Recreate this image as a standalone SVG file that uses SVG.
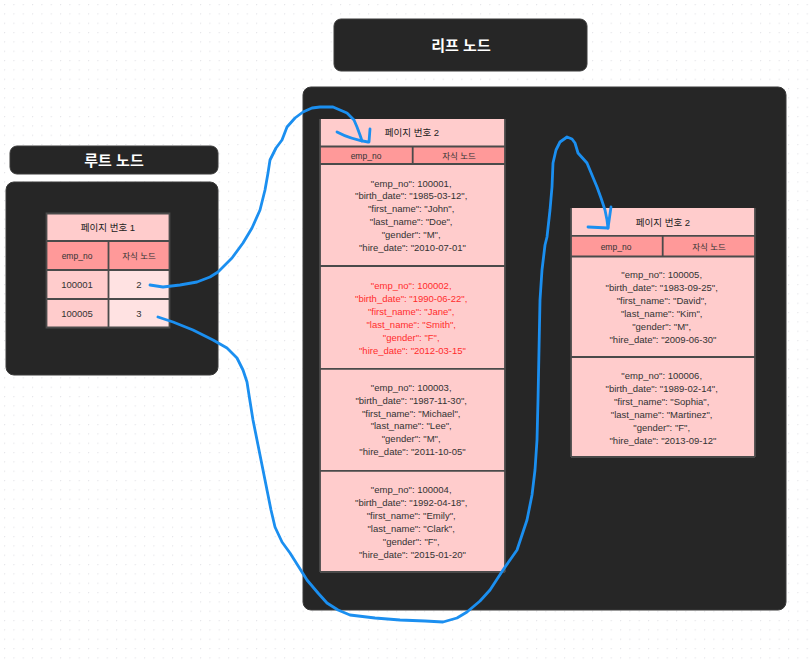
<svg xmlns="http://www.w3.org/2000/svg" width="811" height="665" viewBox="0 0 811 665">
<defs>
  <pattern id="dots" x="4" y="4" width="9.333" height="9.333" patternUnits="userSpaceOnUse">
    <circle cx="0" cy="0" r="1.3" fill="#e4e4e8"/>
  </pattern>
</defs>
<style>
  .panel { fill: #262626; stroke: #3a3a3a; stroke-width: 1; }
  .title { font-family: "Liberation Sans", "Noto Sans CJK KR", sans-serif; font-size: 15px; font-weight: bold; fill: #ffffff; text-anchor: middle; dominant-baseline: central; }
  .hdr { fill: #ffcccc; }
  .colhdr { fill: #ff9999; }
  .cellA { fill: #ffcccc; }
  .cellB { fill: #ffe2e2; }
  .grid { fill: none; stroke: #4a4a4a; stroke-width: 1.8; }
  .t { font-family: "Liberation Sans", "Noto Sans CJK KR", sans-serif; font-size: 9.5px; fill: #333333; text-anchor: middle; dominant-baseline: central; }
  .th { font-family: "Liberation Sans", "Noto Sans CJK KR", sans-serif; font-size: 9.5px; fill: #222222; text-anchor: middle; dominant-baseline: central; }
  .tk { font-family: "Liberation Sans", "Noto Sans CJK KR", sans-serif; font-size: 8.5px; fill: #333333; text-anchor: middle; dominant-baseline: central; }
  .red { fill: #ff2d2d; }
  .wire { fill: none; stroke: #1b8ff0; stroke-width: 2.8; stroke-linecap: round; stroke-linejoin: round; }
</style>

<rect x="0" y="0" width="811" height="665" fill="#ffffff"/>
<rect x="0" y="0" width="811" height="665" fill="url(#dots)"/>

<g id="leaf-title">
  <rect class="panel" x="334" y="19" width="253" height="52" rx="7"/>
  <text class="title" x="461" y="45">리프 노드</text>
</g>

<g id="root-title">
  <rect class="panel" x="10" y="146" width="208" height="28" rx="7"/>
  <text class="title" x="114" y="160">루트 노드</text>
</g>

<g id="root-node">
  <rect class="panel" x="6" y="182" width="212" height="193" rx="8"/>
  <rect class="hdr" x="46.5" y="213.5" width="123" height="27.5"/>
  <rect class="colhdr" x="46.5" y="241" width="62" height="29"/>
  <rect class="colhdr" x="108.5" y="241" width="61" height="29"/>
  <rect class="cellA" x="46.5" y="270" width="62" height="29"/>
  <rect class="cellB" x="108.5" y="270" width="61" height="29"/>
  <rect class="cellA" x="46.5" y="299" width="62" height="28.5"/>
  <rect class="cellB" x="108.5" y="299" width="61" height="28.5"/>
  <path class="grid" d="M46.5,213.5 H169.5 V327.5 H46.5 Z M46.5,241 H169.5 M46.5,270 H169.5 M46.5,299 H169.5 M108.5,241 V327.5"/>
  <text class="th" x="108" y="227.5">페이지 번호 1</text>
  <text class="tk" x="77" y="255.5">emp_no</text>
  <text class="tk" x="139" y="255.5">자식 노드</text>
  <text class="t" x="77" y="284.5">100001</text>
  <text class="t" x="139" y="284.5">2</text>
  <text class="t" x="77" y="313">100005</text>
  <text class="t" x="139" y="313">3</text>
</g>

<g id="leaf-container">
  <rect class="panel" x="303" y="87" width="483" height="523" rx="8"/>
</g>

<g id="leaf-page-2">
  <rect class="hdr" x="320" y="119" width="185" height="453"/>
  <rect class="colhdr" x="320" y="147" width="185" height="16.5"/>
  <path class="grid" d="M320,146.5 H505 M320,164 H505 M412.7,146.5 V164 M320,266 H505 M320,368.8 H505 M320,470.8 H505 M320,572 H505 M320,119 V572 M505,119 V572"/>
  <text class="th" x="412" y="132.7">페이지 번호 2</text>
  <text class="tk" x="366" y="155.5">emp_no</text>
  <text class="tk" x="459" y="155.5">자식 노드</text>
  <text class="t" x="412.5" y="182.5">
    <tspan x="412.5" dy="0">"emp_no": 100001,</tspan>
    <tspan x="412.5" dy="12.9">"birth_date": "1985-03-12",</tspan>
    <tspan x="412.5" dy="12.9">"first_name": "John",</tspan>
    <tspan x="412.5" dy="12.9">"last_name": "Doe",</tspan>
    <tspan x="412.5" dy="12.9">"gender": "M",</tspan>
    <tspan x="412.5" dy="12.9">"hire_date": "2010-07-01"</tspan>
  </text>
  <text class="t red" x="412.5" y="285">
    <tspan x="412.5" dy="0">"emp_no": 100002,</tspan>
    <tspan x="412.5" dy="13">"birth_date": "1990-06-22",</tspan>
    <tspan x="412.5" dy="13">"first_name": "Jane",</tspan>
    <tspan x="412.5" dy="13">"last_name": "Smith",</tspan>
    <tspan x="412.5" dy="13">"gender": "F",</tspan>
    <tspan x="412.5" dy="13">"hire_date": "2012-03-15"</tspan>
  </text>
  <text class="t" x="412.5" y="386.7">
    <tspan x="412.5" dy="0">"emp_no": 100003,</tspan>
    <tspan x="412.5" dy="12.9">"birth_date": "1987-11-30",</tspan>
    <tspan x="412.5" dy="12.9">"first_name": "Michael",</tspan>
    <tspan x="412.5" dy="12.9">"last_name": "Lee",</tspan>
    <tspan x="412.5" dy="12.9">"gender": "M",</tspan>
    <tspan x="412.5" dy="12.9">"hire_date": "2011-10-05"</tspan>
  </text>
  <text class="t" x="412.5" y="489.3">
    <tspan x="412.5" dy="0">"emp_no": 100004,</tspan>
    <tspan x="412.5" dy="12.9">"birth_date": "1992-04-18",</tspan>
    <tspan x="412.5" dy="12.9">"first_name": "Emily",</tspan>
    <tspan x="412.5" dy="12.9">"last_name": "Clark",</tspan>
    <tspan x="412.5" dy="12.9">"gender": "F",</tspan>
    <tspan x="412.5" dy="12.9">"hire_date": "2015-01-20"</tspan>
  </text>
</g>

<g id="leaf-page-3">
  <rect class="hdr" x="571" y="208" width="184" height="249"/>
  <rect class="colhdr" x="571" y="236.5" width="184" height="19.5"/>
  <path class="grid" d="M571,235.8 H755 M571,256.5 H755 M662.7,235.8 V256.5 M571,357 H755 M571,208 V457 M755,208 V457 M571,457 H755"/>
  <text class="th" x="663" y="222.7">페이지 번호 2</text>
  <text class="tk" x="616" y="246.5">emp_no</text>
  <text class="tk" x="709" y="246.5">자식 노드</text>
  <text class="t" x="663" y="273.5">
    <tspan x="663" dy="0">"emp_no": 100005,</tspan>
    <tspan x="663" dy="13">"birth_date": "1983-09-25",</tspan>
    <tspan x="663" dy="13">"first_name": "David",</tspan>
    <tspan x="663" dy="13">"last_name": "Kim",</tspan>
    <tspan x="663" dy="13">"gender": "M",</tspan>
    <tspan x="663" dy="13">"hire_date": "2009-06-30"</tspan>
  </text>
  <text class="t" x="663" y="375">
    <tspan x="663" dy="0">"emp_no": 100006,</tspan>
    <tspan x="663" dy="13">"birth_date": "1989-02-14",</tspan>
    <tspan x="663" dy="13">"first_name": "Sophia",</tspan>
    <tspan x="663" dy="13">"last_name": "Martinez",</tspan>
    <tspan x="663" dy="13">"gender": "F",</tspan>
    <tspan x="663" dy="13">"hire_date": "2013-09-12"</tspan>
  </text>
</g>

<g id="connectors">
  <path class="wire" d="M150,285 L163,287 L180,285 L197,282 L210,277 L218,272 L232,258 L243,243 L252,228 L260,210 L265,190 L268,173 L270,160 L276,148 L282,140 L287,127 L295,118 L303,112 L312,108 L320,107 L333,107 L347,113 L354,120 L357,127 L360,135 L362,141"/>
  <path class="wire" d="M337,132 Q350,139 368,142 M370,129 L369,142"/>
  <path class="wire" d="M158,317 L173,322 L193,330 L213,340 L227,348 L237,358 L243,370 L247,382 L249,395 L253,420 L257,440 L262,465 L267,490 L271,510 L275,527 L282,542 L290,553 L307,580 L318,593 L327,603 L338,610 L350,615 L375,618 L400,620 L425,621 L443,622 L457,618 L467,612 L480,601 L490,590 L503,570 L517,550 L527,520 L532,495 L535,470 L537,440 L538,400 L539,350 L540,300 L542,270 L545,245 L547,237 L550,210 L552,187 L553,163 L556,150 L560,142 L567,137 L572,139 L575,143 L578,153 L587,163 L592,175 L597,187 L601,198 L605,210 L607,220 L608,228"/>
  <path class="wire" d="M588,227 L608,228 M611,207 L608,228"/>
</g>
</svg>
